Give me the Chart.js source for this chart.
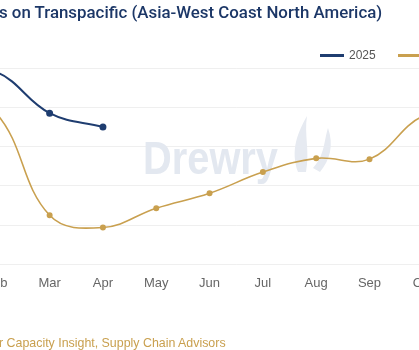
<!DOCTYPE html>
<html>
<head>
<meta charset="utf-8">
<script src="https://cdn.jsdelivr.net/npm/chart.js@4/dist/chart.umd.min.js"></script>
<style>
  html, body { margin: 0; padding: 0; width: 419px; height: 350px; overflow: hidden; background: #fff; position: relative; font-family: "Liberation Sans", Arial, sans-serif; }
  #wrap { position: absolute; left: -100px; top: 0; width: 652px; height: 350px; }
  #title { position: absolute; left: -1px; top: 2px; font-family: Roboto, "Liberation Sans", sans-serif; font-weight: 500; font-size: 16.85px; color: #1c3767; white-space: nowrap; }
  #source { position: absolute; left: -1px; top: 336px; font-size: 12.4px; color: #c9a04f; white-space: nowrap; }
  #legend { position: absolute; left: 320px; top: 48px; font-size: 12px; color: #555; white-space: nowrap; }
  .sw { display: inline-block; width: 24px; height: 3px; vertical-align: middle; margin-right: 5px; }
  .item { display: inline-block; margin-right: 22px; }
</style>
</head>
<body>
<div id="wrap"><canvas id="c" width="652" height="350"></canvas></div>
<div id="title">s on Transpacific (Asia-West Coast North America)</div>
<div id="legend"><span class="item"><span class="sw" style="background:#1f3d70"></span>2025</span><span class="item"><span class="sw" style="background:#c9a04f"></span>2024</span></div>
<div id="source">r Capacity Insight, Supply Chain Advisors</div>
<script>
const months = ['Jan','Feb','Mar','Apr','May','Jun','Jul','Aug','Sep','Oct','Nov','Dec'];
const series2025 = [50, 49, 38.5, 35, null, null, null, null, null, null, null, null];
const series2024 = [44, 38.5, 12.5, 9.4, 14.3, 18.1, 23.5, 27, 26.8, 37.8, 40, 38];
const yTicks = { min: 0, max: 50, step: 10 };

const watermark = {
  id: 'watermark',
  beforeDatasetsDraw(chart) {
    const ctx = chart.ctx;
    ctx.save();
    ctx.font = 'bold 47px "Liberation Sans", Arial, sans-serif';
    ctx.fillStyle = '#e3e8f0';
    ctx.textBaseline = 'alphabetic';
    const w = ctx.measureText('Drewry').width;
    ctx.save();
    ctx.translate(243, 174);
    ctx.scale(135 / w, 1);
    ctx.fillText('Drewry', 0, 0);
    ctx.restore();
    // flame logo (canvas coords = viewport + 100)
    ctx.fillStyle = '#e6eaf1';
    ctx.beginPath();
    ctx.moveTo(398, 172);
    ctx.bezierCurveTo(390, 150, 398, 132, 407, 116);
    ctx.bezierCurveTo(404, 135, 410, 150, 406, 172);
    ctx.closePath();
    ctx.fill();
    ctx.beginPath();
    ctx.moveTo(413, 168);
    ctx.bezierCurveTo(425, 155, 424, 140, 428, 128);
    ctx.bezierCurveTo(434, 145, 430, 160, 420, 172);
    ctx.closePath();
    ctx.fill();
    ctx.restore();
  }
};

new Chart(document.getElementById('c'), {
  type: 'line',
  data: {
    labels: months,
    datasets: [
      { label: '2025', data: series2025, borderColor: '#1f3d70', backgroundColor: '#1f3d70', borderWidth: 2, pointRadius: 2.5, pointHoverRadius: 2.5, tension: 0.4, spanGaps: false },
      { label: '2024', data: series2024, borderColor: '#c9a04f', backgroundColor: '#c9a04f', borderWidth: 1.6, pointRadius: 2.2, pointHoverRadius: 2.2, tension: 0.4 }
    ]
  },
  options: {
    responsive: false,
    animation: false,
    layout: { padding: { left: 43, right: 20, top: 68, bottom: 48 } },
    plugins: { legend: { display: false }, title: { display: false }, tooltip: { enabled: false } },
    scales: {
      x: {
        offset: false,
        grid: { display: false, drawTicks: false },
        border: { display: false },
        ticks: { color: '#666', font: { size: 13, family: '"Liberation Sans", Arial, sans-serif' }, padding: 11, maxRotation: 0, autoSkip: false }
      },
      y: {
        min: yTicks.min, max: yTicks.max,
        grid: { color: '#efefef', drawTicks: false, lineWidth: 1 },
        border: { display: false },
        ticks: { display: false, stepSize: yTicks.step }
      }
    }
  },
  plugins: [watermark]
});
</script>
</body>
</html>
